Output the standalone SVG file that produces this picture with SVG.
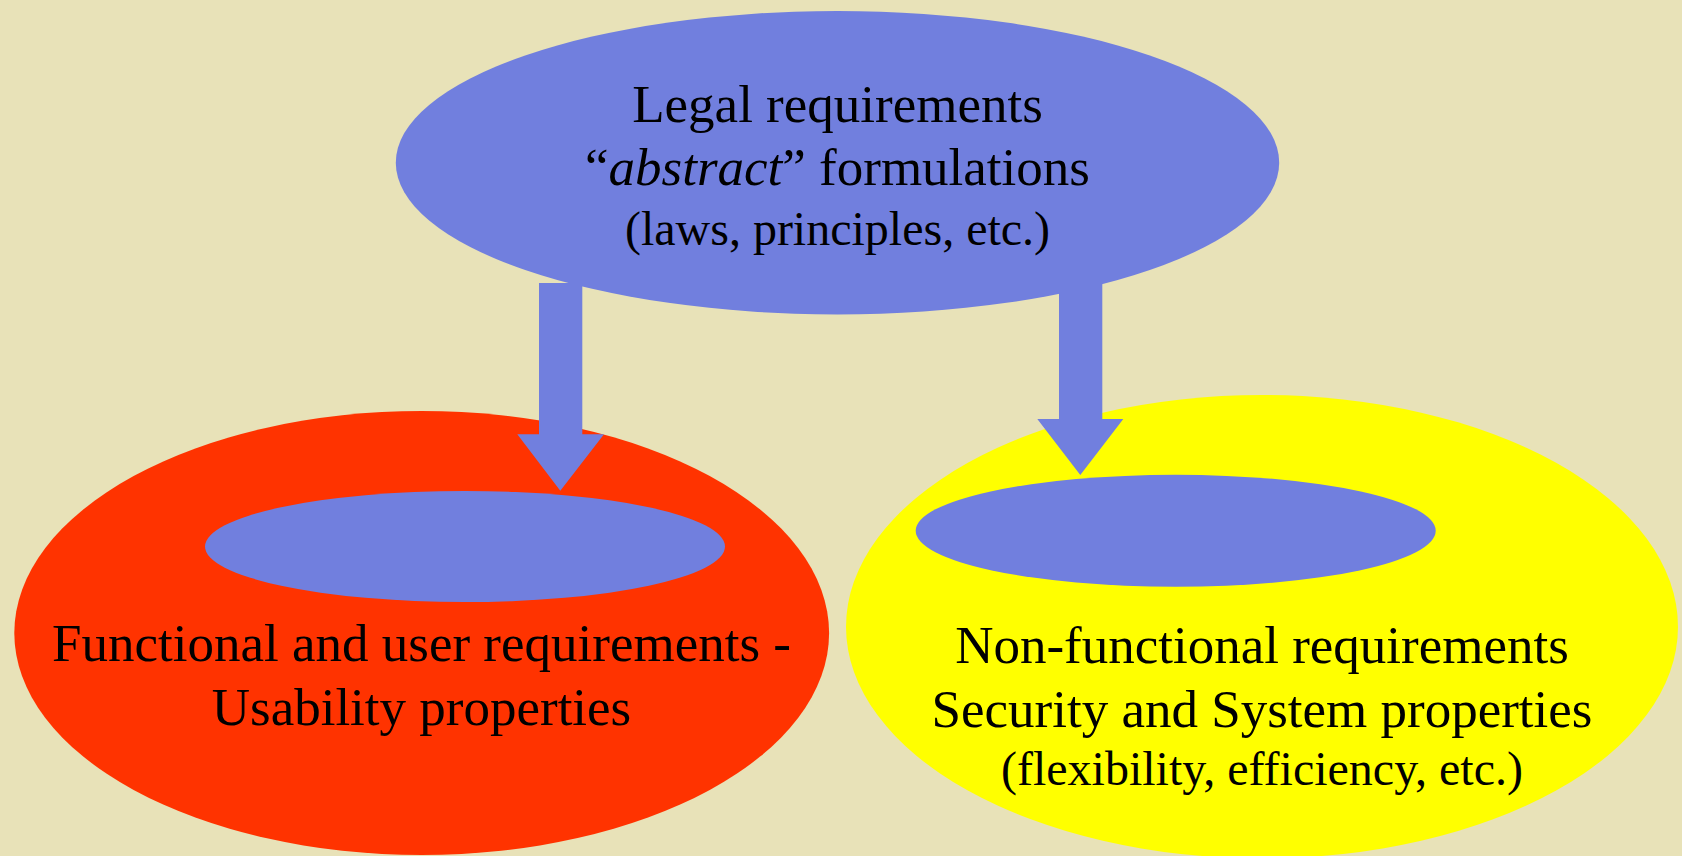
<svg xmlns="http://www.w3.org/2000/svg" width="1682" height="856" viewBox="0 0 1682 856">
<style>
.blue{fill:#717FDE}
.t{font-family:"Liberation Serif","Times New Roman",serif;fill:#000;text-anchor:middle}
.big{font-size:53px}
.small{font-size:48px}
</style>
<rect width="1682" height="856" fill="#E8E2B8"/>
<g id="legal">
<ellipse class="blue" cx="837.5" cy="162.7" rx="441.7" ry="151.7"/>
<text class="t big" x="837.5" y="122">Legal requirements</text>
<text class="t big" x="837.5" y="185">“<tspan font-style="italic">abstract</tspan>” formulations</text>
<text class="t small" x="837.5" y="245">(laws, principles, etc.)</text>
</g>
<g id="functional">
<ellipse cx="421.7" cy="633" rx="407.4" ry="222" fill="#FF3300"/>
<ellipse class="blue" cx="465" cy="546.5" rx="260" ry="55.5"/>
<text class="t big" x="421.5" y="661">Functional and user requirements -</text>
<text class="t big" x="421.5" y="725">Usability properties</text>
</g>
<g id="nonfunctional">
<ellipse cx="1262" cy="626.7" rx="416" ry="231.7" fill="#FFFF00"/>
<ellipse class="blue" cx="1175.7" cy="530.8" rx="260" ry="56"/>
<text class="t big" x="1262" y="663">Non-functional requirements</text>
<text class="t big" x="1262" y="727">Security and System properties</text>
<text class="t small" x="1262" y="785">(flexibility, efficiency, etc.)</text>
</g>
<g id="connectors">
<polygon class="blue" points="539,283 582.3,283 582.3,434.3 604,434.3 560.3,490.7 517.3,434.3 539,434.3"/>
<polygon class="blue" points="1059,283 1102.3,283 1102.3,419 1123.3,419 1080.3,475 1037.3,419 1059,419"/>
</g>
</svg>
